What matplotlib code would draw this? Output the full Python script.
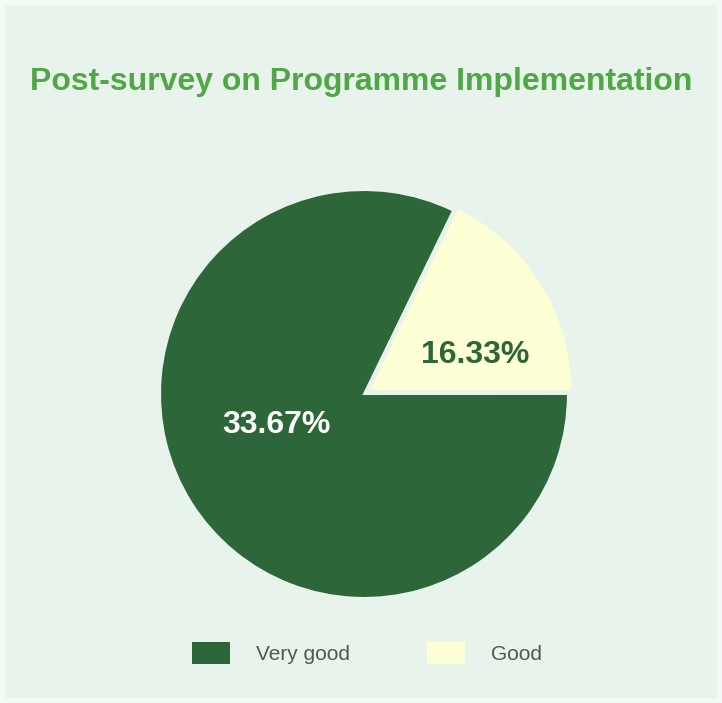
import matplotlib.pyplot as plt
from matplotlib.patches import Rectangle

plt.rcParams['font.family'] = ['Liberation Sans', 'DejaVu Sans']

# survey answers, slice sizes and the percentage text shown on each slice
categories = ['Very good', 'Good']
slice_share = [82.2, 17.8]
pct_labels = ['33.67%', '16.33%']

colors = ['#2d6638', '#fdffd5']
label_colors = ['white', '#2d6638']
panel_bg = '#e8f3eb'

fig = plt.figure(figsize=(7.22, 7.03), dpi=100)
fig.patch.set_facecolor('#f3f9f5')

# light green card behind the chart
fig.patches.append(Rectangle((5 / 722, 5 / 703), 712 / 722, 693 / 703,
                             transform=fig.transFigure, facecolor=panel_bg,
                             edgecolor='none', zorder=-10))

fig.text(0.5, 0.884, 'Post-survey on Programme Implementation',
         ha='center', va='center', fontsize=23, fontweight='bold',
         color='#4fa845')

ax = fig.add_axes([160 / 722, 1 - 598 / 703, 408 / 722, 408 / 703])
wedges, _ = ax.pie(slice_share, colors=colors, startangle=64.1,
                   counterclock=True, explode=[0, 0.025],
                   wedgeprops=dict(edgecolor=panel_bg, linewidth=1.5))
ax.set_xlim(-1, 1)
ax.set_ylim(-1, 1)
ax.set_aspect('equal')
ax.axis('off')

# percentage text inside each slice
label_pos = [(-0.43, -0.15), (0.545, 0.19)]
for (x, y), txt, c in zip(label_pos, pct_labels, label_colors):
    ax.text(x, y, txt, ha='center', va='center', fontsize=23,
            fontweight='bold', color=c)

leg = fig.legend(wedges, categories, loc='center', ncol=2,
                 bbox_to_anchor=(0.508, 0.071), frameon=False,
                 fontsize=15, handlelength=1.83, handleheight=1.25,
                 handletextpad=1.25, columnspacing=3.7)
for t in leg.get_texts():
    t.set_color('#555555')
for h in leg.legend_handles:
    h.set_edgecolor('none')

plt.savefig('out.png', dpi=100, facecolor=fig.get_facecolor())
